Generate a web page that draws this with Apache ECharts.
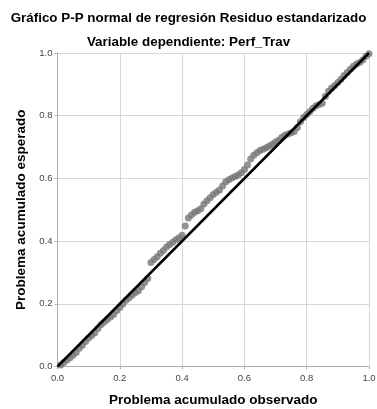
<!DOCTYPE html>
<html>
<head>
<meta charset="utf-8">
<script src="https://cdn.jsdelivr.net/npm/echarts@6/dist/echarts.min.js"></script>
<style>html,body{margin:0;padding:0;background:#fff;}#c{width:377px;height:409px;}</style>
</head>
<body>
<div id="c"></div>
<script>
const observed = [0.01,0.02,0.03,0.04,0.05,0.06,0.07,0.08,0.09,0.10,0.11,0.12,0.13,0.14,0.15,0.16,0.17,0.18,0.19,0.20,
0.21,0.22,0.23,0.24,0.25,0.26,0.27,0.28,0.29,0.30,0.31,0.32,0.33,0.34,0.35,0.36,0.37,0.38,0.39,0.40,
0.41,0.42,0.43,0.44,0.45,0.46,0.47,0.48,0.49,0.50,0.51,0.52,0.53,0.54,0.55,0.56,0.57,0.58,0.59,0.60,
0.61,0.62,0.63,0.64,0.65,0.66,0.67,0.68,0.69,0.70,0.71,0.72,0.73,0.74,0.75,0.76,0.77,0.78,0.79,0.80,
0.81,0.82,0.83,0.84,0.85,0.86,0.87,0.88,0.89,0.90,0.91,0.92,0.93,0.94,0.95,0.96,0.97,0.98,0.99,1.00];
const expected = [0.005,0.013,0.021,0.028,0.036,0.045,0.058,0.068,0.080,0.091,0.099,0.108,0.121,0.134,0.142,0.150,0.158,0.166,0.178,0.188,
0.199,0.211,0.219,0.228,0.236,0.242,0.254,0.268,0.281,0.332,0.341,0.350,0.361,0.370,0.381,0.389,0.396,0.404,0.411,0.419,
0.448,0.474,0.483,0.492,0.497,0.503,0.518,0.529,0.538,0.549,0.556,0.563,0.576,0.589,0.596,0.601,0.606,0.611,0.618,0.628,
0.643,0.662,0.674,0.682,0.689,0.693,0.698,0.703,0.709,0.716,0.722,0.731,0.738,0.742,0.746,0.750,0.762,0.781,0.794,0.804,
0.813,0.824,0.832,0.836,0.840,0.862,0.878,0.888,0.896,0.906,0.916,0.928,0.938,0.948,0.958,0.965,0.970,0.978,0.990,0.998];
const refLine = [[0,0],[1,1]];
const tickValues = [0,0.2,0.4,0.6,0.8,1.0];
const titleText = 'Gráfico P-P normal de regresión Residuo estandarizado';
const subtitleText = 'Variable dependiente: Perf_Trav';
const xName = 'Problema acumulado observado';
const yName = 'Problema acumulado esperado';

const points = observed.map((x, i) => [x, expected[i]]);
const chart = echarts.init(document.getElementById('c'), null, {renderer: 'canvas'});
const nameStyle = {fontFamily: 'Liberation Sans', fontWeight: 'bold', fontSize: 13.5, color: '#000'};
const labelStyle = {fontFamily: 'Liberation Sans', fontSize: 9.5, color: '#444', formatter: v => v.toFixed(1)};
const axisCommon = {
  type: 'value', min: 0, max: 1, interval: 0.2,
  nameLocation: 'middle',
  nameTextStyle: nameStyle,
  axisLine: {show: true, lineStyle: {color: '#b0b0b0', width: 1}},
  axisTick: {show: true, length: 3, lineStyle: {color: '#b0b0b0'}},
  splitLine: {show: true, lineStyle: {color: '#d6d6d6', width: 1}}
};
chart.setOption({
  animation: false,
  backgroundColor: '#fff',
  title: [
    {text: titleText, left: 'center', top: 7, textStyle: {fontFamily: 'Liberation Sans', fontWeight: 'bold', fontSize: 13.4, color: '#000'}},
    {text: subtitleText, left: 'center', top: 31, textStyle: {fontFamily: 'Liberation Sans', fontWeight: 'bold', fontSize: 13.4, color: '#000'}}
  ],
  grid: {left: 57.5, right: 8, top: 53, bottom: 42.5, containLabel: false, outerBoundsMode: 'none'},
  xAxis: Object.assign({}, axisCommon, {name: xName, nameGap: 27, axisLabel: Object.assign({}, labelStyle, {margin: 7})}),
  yAxis: Object.assign({}, axisCommon, {name: yName, nameGap: 29, axisLabel: Object.assign({}, labelStyle, {margin: 5})}),
  series: [
    {type: 'scatter', data: points, symbol: 'circle', symbolSize: 7, itemStyle: {color: '#777777'}, z: 2},
    {type: 'line', data: refLine, symbol: 'none', lineStyle: {color: '#000', width: 2.5}, z: 3}
  ]
});
</script>
</body>
</html>
